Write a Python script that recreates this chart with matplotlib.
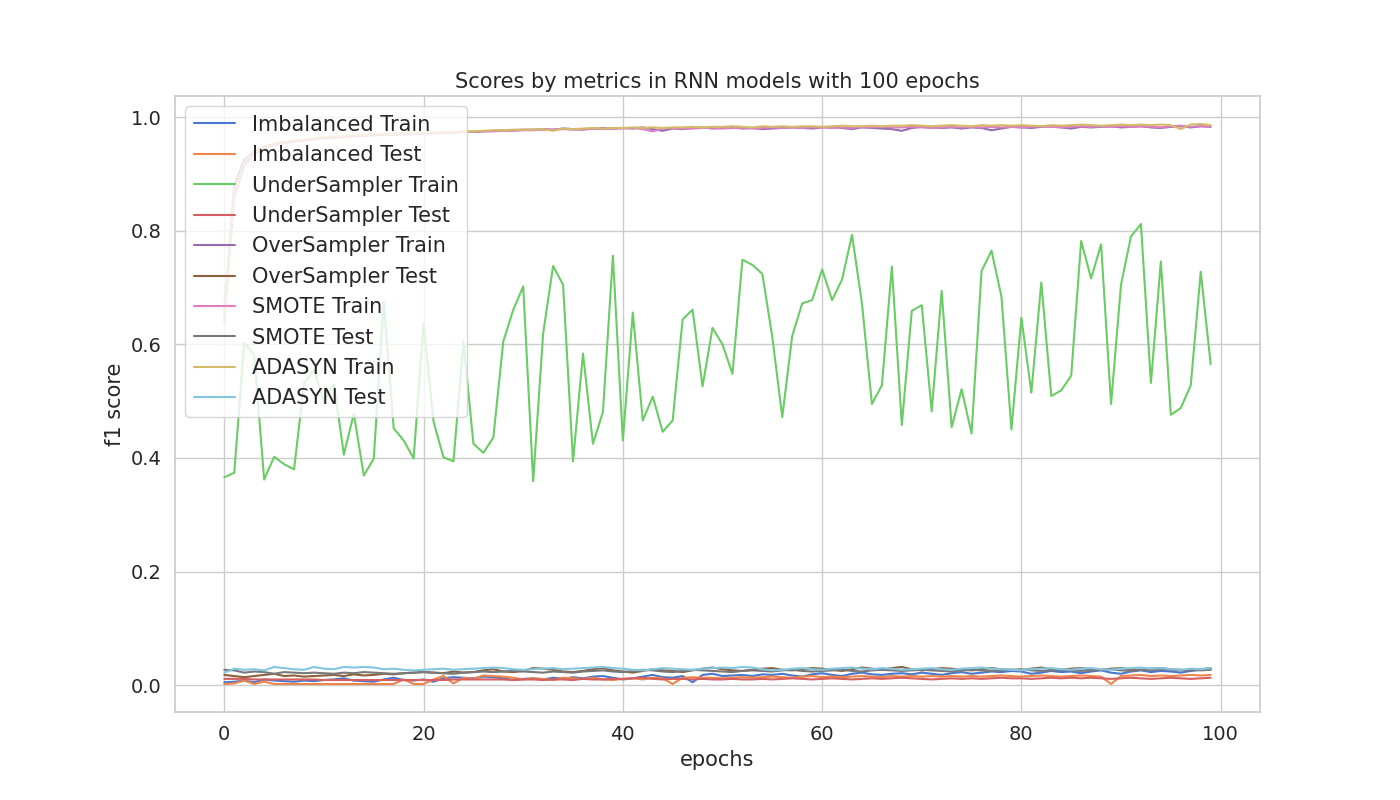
import matplotlib
matplotlib.use("Agg")
import matplotlib.pyplot as plt
import seaborn as sns

epochs = list(range(100))

# top (train) curves
over_train = [0.66, 0.88, 0.925, 0.94, 0.948, 0.953, 0.956, 0.958, 0.960, 0.962,
              0.964, 0.965, 0.966, 0.967, 0.968, 0.969, 0.969, 0.970, 0.971, 0.971,
              0.972, 0.972, 0.973, 0.973, 0.974, 0.974, 0.975, 0.976, 0.977, 0.977,
              0.978, 0.978, 0.979, 0.978, 0.980, 0.979, 0.978, 0.980, 0.981, 0.980,
              0.981, 0.980, 0.982, 0.979, 0.976, 0.980, 0.979, 0.981, 0.982, 0.980,
              0.981, 0.982, 0.980, 0.981, 0.979, 0.980, 0.981, 0.982, 0.981, 0.980,
              0.982, 0.983, 0.981, 0.979, 0.982, 0.981, 0.980, 0.979, 0.976, 0.981,
              0.983, 0.982, 0.981, 0.982, 0.980, 0.982, 0.981, 0.977, 0.980, 0.983,
              0.982, 0.981, 0.983, 0.984, 0.982, 0.980, 0.983, 0.982, 0.983, 0.984,
              0.982, 0.983, 0.984, 0.982, 0.981, 0.983, 0.984, 0.982, 0.984, 0.983]
smote_train = [0.64, 0.86, 0.915, 0.935, 0.945, 0.950, 0.954, 0.957, 0.959, 0.961,
               0.963, 0.964, 0.965, 0.966, 0.967, 0.968, 0.969, 0.969, 0.970, 0.970,
               0.971, 0.972, 0.972, 0.973, 0.974, 0.974, 0.975, 0.975, 0.976, 0.976,
               0.977, 0.977, 0.978, 0.978, 0.979, 0.978, 0.979, 0.980, 0.979, 0.980,
               0.980, 0.981, 0.979, 0.975, 0.980, 0.981, 0.980, 0.980, 0.981, 0.981,
               0.980, 0.981, 0.981, 0.980, 0.981, 0.982, 0.981, 0.982, 0.981, 0.982,
               0.982, 0.981, 0.982, 0.981, 0.983, 0.982, 0.983, 0.982, 0.982, 0.983,
               0.982, 0.981, 0.982, 0.983, 0.982, 0.983, 0.982, 0.983, 0.982, 0.983,
               0.982, 0.983, 0.984, 0.983, 0.982, 0.983, 0.984, 0.983, 0.984, 0.983,
               0.984, 0.983, 0.984, 0.983, 0.982, 0.984, 0.985, 0.983, 0.984, 0.984]
adasyn_train = [0.65, 0.87, 0.92, 0.938, 0.947, 0.952, 0.956, 0.959, 0.961, 0.963,
                0.965, 0.966, 0.967, 0.968, 0.969, 0.970, 0.970, 0.971, 0.972, 0.972,
                0.973, 0.973, 0.974, 0.974, 0.975, 0.975, 0.976, 0.977, 0.977, 0.978,
                0.978, 0.978, 0.979, 0.976, 0.980, 0.979, 0.980, 0.981, 0.980, 0.981,
                0.981, 0.982, 0.981, 0.982, 0.981, 0.982, 0.982, 0.983, 0.982, 0.983,
                0.983, 0.984, 0.983, 0.982, 0.984, 0.983, 0.984, 0.983, 0.984, 0.984,
                0.983, 0.984, 0.985, 0.984, 0.984, 0.985, 0.984, 0.985, 0.985, 0.986,
                0.985, 0.984, 0.985, 0.986, 0.985, 0.984, 0.986, 0.985, 0.986, 0.985,
                0.986, 0.985, 0.984, 0.986, 0.985, 0.986, 0.987, 0.986, 0.985, 0.986,
                0.987, 0.986, 0.987, 0.986, 0.987, 0.986, 0.979, 0.987, 0.988, 0.986]

under_train = [0.366, 0.374, 0.603, 0.581, 0.362, 0.402, 0.389, 0.380, 0.531, 0.555,
               0.500, 0.530, 0.406, 0.478, 0.369, 0.399, 0.675, 0.452, 0.431, 0.399,
               0.637, 0.464, 0.401, 0.394, 0.605, 0.425, 0.409, 0.436, 0.605, 0.661,
               0.702, 0.359, 0.619, 0.738, 0.705, 0.394, 0.584, 0.425, 0.481, 0.756,
               0.431, 0.656, 0.466, 0.508, 0.446, 0.466, 0.644, 0.661, 0.526, 0.629,
               0.600, 0.548, 0.749, 0.740, 0.724, 0.613, 0.472, 0.615, 0.672, 0.678,
               0.732, 0.678, 0.714, 0.793, 0.672, 0.495, 0.528, 0.737, 0.458, 0.659,
               0.669, 0.482, 0.694, 0.454, 0.521, 0.443, 0.729, 0.765, 0.684, 0.450,
               0.647, 0.515, 0.709, 0.509, 0.519, 0.545, 0.782, 0.716, 0.776, 0.495,
               0.705, 0.790, 0.812, 0.532, 0.746, 0.476, 0.488, 0.528, 0.728, 0.565]

# bottom (test) curves
imb_train = [0.005, 0.006, 0.008, 0.005, 0.010, 0.008, 0.007, 0.006, 0.008, 0.007,
             0.009, 0.010, 0.012, 0.008, 0.007, 0.006, 0.010, 0.013, 0.009, 0.008,
             0.010, 0.006, 0.012, 0.014, 0.013, 0.012, 0.015, 0.014, 0.012, 0.009,
             0.011, 0.012, 0.010, 0.013, 0.011, 0.014, 0.012, 0.015, 0.016, 0.013,
             0.010, 0.012, 0.015, 0.018, 0.014, 0.013, 0.016, 0.005, 0.018, 0.020,
             0.016, 0.017, 0.018, 0.016, 0.019, 0.018, 0.020, 0.017, 0.015, 0.019,
             0.021, 0.018, 0.016, 0.020, 0.022, 0.019, 0.018, 0.020, 0.021, 0.019,
             0.022, 0.020, 0.018, 0.021, 0.023, 0.020, 0.022, 0.024, 0.023, 0.025,
             0.024, 0.020, 0.022, 0.025, 0.023, 0.024, 0.021, 0.024, 0.026, 0.022,
             0.020, 0.024, 0.026, 0.023, 0.025, 0.024, 0.022, 0.025, 0.027, 0.028]
imb_test = [0.002, 0.003, 0.008, 0.002, 0.006, 0.002, 0.002, 0.002, 0.002, 0.002,
            0.002, 0.002, 0.002, 0.002, 0.002, 0.002, 0.002, 0.002, 0.010, 0.002,
            0.002, 0.010, 0.016, 0.003, 0.013, 0.011, 0.017, 0.016, 0.015, 0.013,
            0.010, 0.012, 0.011, 0.009, 0.013, 0.012, 0.011, 0.013, 0.010, 0.009,
            0.011, 0.012, 0.010, 0.013, 0.012, 0.002, 0.013, 0.014, 0.013, 0.013,
            0.012, 0.013, 0.014, 0.013, 0.014, 0.015, 0.014, 0.013, 0.015, 0.016,
            0.014, 0.015, 0.014, 0.015, 0.016, 0.015, 0.014, 0.016, 0.015, 0.016,
            0.015, 0.016, 0.015, 0.016, 0.015, 0.016, 0.015, 0.016, 0.017, 0.016,
            0.015, 0.016, 0.017, 0.016, 0.015, 0.016, 0.017, 0.016, 0.015, 0.002,
            0.016, 0.017, 0.018, 0.016, 0.017, 0.016, 0.017, 0.018, 0.017, 0.018]
under_test = [0.011, 0.011, 0.011, 0.010, 0.010, 0.010, 0.010, 0.010, 0.010, 0.010,
              0.009, 0.009, 0.009, 0.009, 0.009, 0.009, 0.009, 0.009, 0.009, 0.009,
              0.009, 0.009, 0.009, 0.010, 0.010, 0.010, 0.010, 0.010, 0.010, 0.009,
              0.010, 0.010, 0.009, 0.010, 0.010, 0.009, 0.011, 0.010, 0.010, 0.011,
              0.011, 0.012, 0.013, 0.011, 0.010, 0.011, 0.011, 0.010, 0.011, 0.010,
              0.010, 0.011, 0.010, 0.010, 0.011, 0.010, 0.011, 0.012, 0.011, 0.010,
              0.011, 0.012, 0.011, 0.010, 0.011, 0.012, 0.011, 0.012, 0.013, 0.012,
              0.011, 0.010, 0.011, 0.012, 0.011, 0.012, 0.011, 0.012, 0.013, 0.012,
              0.012, 0.011, 0.012, 0.013, 0.012, 0.013, 0.012, 0.013, 0.012, 0.011,
              0.012, 0.013, 0.012, 0.011, 0.012, 0.013, 0.012, 0.011, 0.012, 0.013]
over_test = [0.018, 0.016, 0.014, 0.016, 0.018, 0.020, 0.016, 0.017, 0.015, 0.016,
             0.017, 0.018, 0.016, 0.019, 0.017, 0.018, 0.020, 0.019, 0.021, 0.022,
             0.023, 0.022, 0.021, 0.024, 0.022, 0.023, 0.026, 0.028, 0.024, 0.023,
             0.025, 0.030, 0.029, 0.027, 0.024, 0.023, 0.025, 0.028, 0.030, 0.026,
             0.024, 0.022, 0.025, 0.028, 0.026, 0.025, 0.023, 0.026, 0.029, 0.031,
             0.028, 0.026, 0.025, 0.027, 0.029, 0.030, 0.027, 0.026, 0.028, 0.030,
             0.029, 0.027, 0.025, 0.028, 0.031, 0.029, 0.027, 0.030, 0.032, 0.028,
             0.026, 0.028, 0.030, 0.029, 0.027, 0.026, 0.028, 0.030, 0.028, 0.027,
             0.026, 0.029, 0.031, 0.028, 0.027, 0.029, 0.030, 0.028, 0.027, 0.029,
             0.030, 0.028, 0.027, 0.029, 0.030, 0.028, 0.027, 0.026, 0.028, 0.030]
smote_test = [0.027, 0.026, 0.022, 0.024, 0.023, 0.020, 0.023, 0.022, 0.021, 0.022,
              0.021, 0.020, 0.022, 0.021, 0.023, 0.022, 0.021, 0.020, 0.021, 0.022,
              0.023, 0.022, 0.021, 0.020, 0.022, 0.023, 0.024, 0.023, 0.024, 0.025,
              0.024, 0.023, 0.022, 0.024, 0.023, 0.022, 0.024, 0.025, 0.026, 0.024,
              0.023, 0.025, 0.027, 0.026, 0.024, 0.023, 0.025, 0.027, 0.026, 0.025,
              0.024, 0.023, 0.025, 0.026, 0.025, 0.024, 0.026, 0.027, 0.025, 0.024,
              0.025, 0.026, 0.027, 0.025, 0.024, 0.026, 0.027, 0.026, 0.025, 0.026,
              0.027, 0.026, 0.025, 0.024, 0.026, 0.027, 0.026, 0.025, 0.026, 0.027,
              0.028, 0.026, 0.025, 0.026, 0.027, 0.026, 0.025, 0.026, 0.027, 0.028,
              0.026, 0.025, 0.027, 0.026, 0.028, 0.027, 0.026, 0.027, 0.026, 0.027]
adasyn_test = [0.022, 0.029, 0.027, 0.028, 0.026, 0.032, 0.030, 0.028, 0.027, 0.032,
               0.029, 0.028, 0.032, 0.031, 0.032, 0.031, 0.028, 0.029, 0.027, 0.026,
               0.027, 0.028, 0.029, 0.027, 0.028, 0.029, 0.030, 0.031, 0.030, 0.028,
               0.027, 0.028, 0.029, 0.030, 0.028, 0.029, 0.030, 0.031, 0.032, 0.030,
               0.029, 0.027, 0.026, 0.028, 0.030, 0.029, 0.028, 0.027, 0.029, 0.030,
               0.031, 0.030, 0.032, 0.031, 0.028, 0.026, 0.027, 0.029, 0.030, 0.028,
               0.027, 0.029, 0.030, 0.031, 0.029, 0.028, 0.030, 0.029, 0.027, 0.028,
               0.029, 0.030, 0.028, 0.027, 0.029, 0.030, 0.031, 0.029, 0.028, 0.027,
               0.026, 0.028, 0.029, 0.030, 0.028, 0.027, 0.029, 0.030, 0.028, 0.027,
               0.029, 0.030, 0.031, 0.029, 0.030, 0.028, 0.027, 0.029, 0.028, 0.030]

series = [
    ("Imbalanced Train", imb_train),
    ("Imbalanced Test", imb_test),
    ("UnderSampler Train", under_train),
    ("UnderSampler Test", under_test),
    ("OverSampler Train", over_train),
    ("OverSampler Test", over_test),
    ("SMOTE Train", smote_train),
    ("SMOTE Test", smote_test),
    ("ADASYN Train", adasyn_train),
    ("ADASYN Test", adasyn_test),
]

sns.set_theme(style="whitegrid", palette="muted")
colors = sns.color_palette("muted", 10)

fig, ax = plt.subplots(figsize=(14, 8), dpi=100)
for (name, vals), c in zip(series, colors):
    ax.plot(epochs, vals, label=name, color=c, linewidth=1.5)

ax.set_title("Scores by metrics in RNN models with 100 epochs", fontsize=15)
ax.set_xlabel("epochs", fontsize=15)
ax.set_ylabel("f1 score", fontsize=15)
ax.tick_params(labelsize=14)
ax.legend(loc="upper left", fontsize=15)
fig.savefig("out.png")
